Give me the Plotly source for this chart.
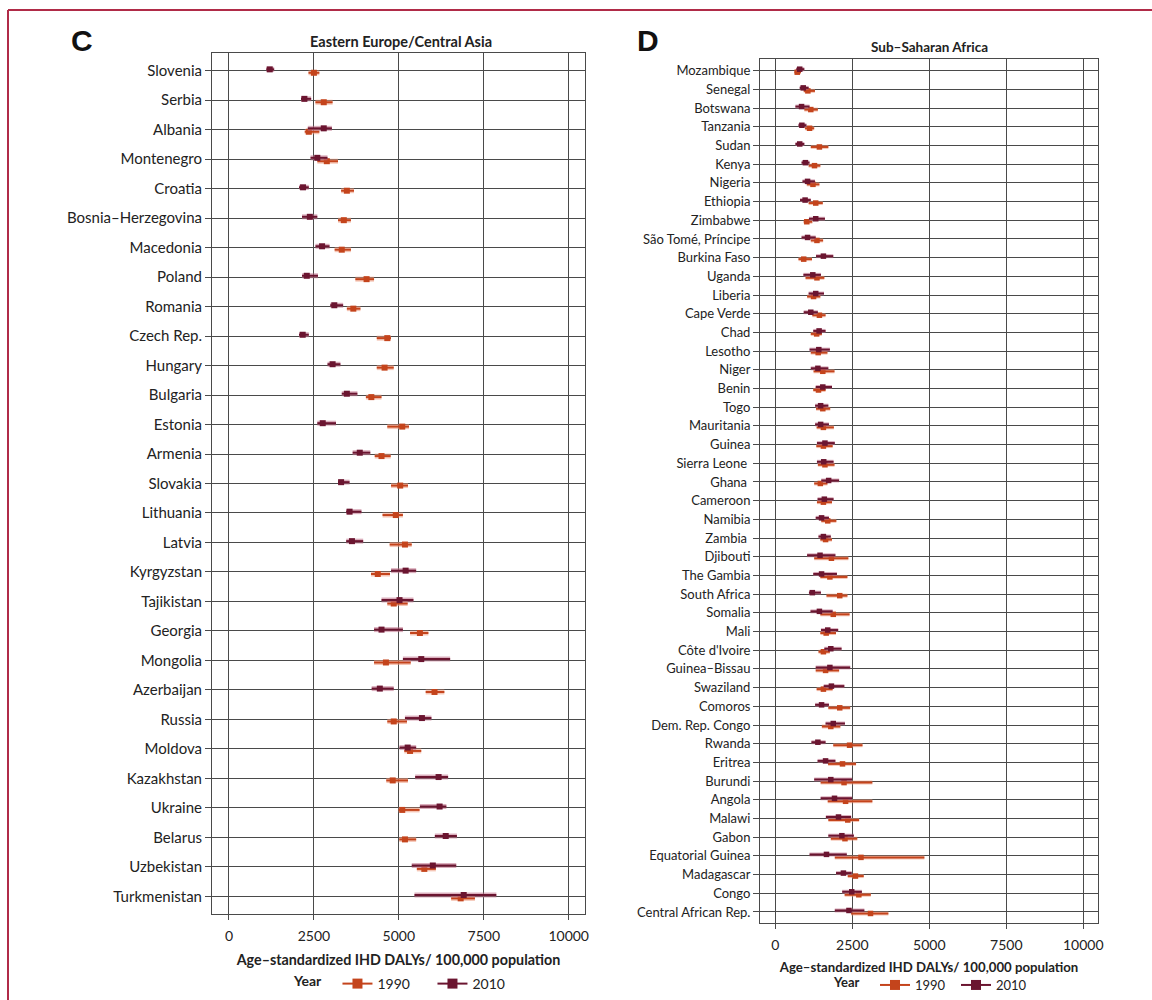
import plotly.graph_objects as go

# ---------------- Panel C: Eastern Europe / Central Asia ----------------
ee_countries = ["Slovenia", "Serbia", "Albania", "Montenegro", "Croatia", "Bosnia–Herzegovina",
                "Macedonia", "Poland", "Romania", "Czech Rep.", "Hungary", "Bulgaria", "Estonia",
                "Armenia", "Slovakia", "Lithuania", "Latvia", "Kyrgyzstan", "Tajikistan", "Georgia",
                "Mongolia", "Azerbaijan", "Russia", "Moldova", "Kazakhstan", "Ukraine", "Belarus",
                "Uzbekistan", "Turkmenistan"]
ee_1990 = [2500, 2790, 2350, 2880, 3470, 3380, 3320, 4050, 3660, 4660, 4580, 4190, 5100,
           4490, 5040, 4910, 5180, 4380, 4850, 5620, 4620, 6050, 4850, 5330, 4820, 5100,
           5180, 5750, 6820]
ee_1990_lo = [2340, 2545, 2230, 2600, 3300, 3210, 3110, 3720, 3470, 4350, 4350, 4030, 4660,
              4290, 4770, 4520, 4730, 4180, 4660, 5330, 4270, 5790, 4660, 5160, 4630, 4990,
              5010, 5530, 6540]
ee_1990_hi = [2660, 3050, 2660, 3210, 3680, 3590, 3590, 4270, 3870, 4770, 4850, 4490, 5300,
              4760, 5270, 5120, 5380, 4740, 5260, 5870, 5350, 6340, 5240, 5660, 5270, 5610,
              5510, 6090, 7240]
ee_2010 = [1200, 2220, 2790, 2600, 2180, 2380, 2740, 2290, 3100, 2170, 3050, 3470, 2760,
           3850, 3300, 3550, 3620, 5200, 5020, 4490, 5660, 4440, 5680, 5260, 6170, 6200,
           6380, 6000, 6910]
ee_2010_lo = [1100, 2120, 2320, 2400, 2060, 2150, 2545, 2150, 2980, 2060, 2900, 3320, 2600,
              3640, 3210, 3450, 3450, 4770, 4490, 4270, 5120, 4200, 5180, 5020, 5480, 5620,
              6060, 5380, 5460]
ee_2010_hi = [1330, 2420, 3030, 2900, 2350, 2600, 2960, 2620, 3360, 2350, 3280, 3780, 3150,
              4160, 3550, 3900, 3950, 5510, 5430, 5120, 6510, 4850, 5960, 5510, 6450, 6400,
              6710, 6690, 7870]

# ---------------- Panel D: Sub-Saharan Africa ----------------
ssa_countries = ["Mozambique", "Senegal", "Botswana", "Tanzania", "Sudan", "Kenya", "Nigeria",
                 "Ethiopia", "Zimbabwe", "São Tomé, Príncipe", "Burkina Faso", "Uganda", "Liberia",
                 "Cape Verde", "Chad", "Lesotho", "Niger", "Benin", "Togo", "Mauritania", "Guinea",
                 "Sierra Leone ", "Ghana ", "Cameroon", "Namibia", "Zambia ", "Djibouti",
                 "The Gambia", "South Africa", "Somalia", "Mali", "Côte d'Ivoire", "Guinea–Bissau",
                 "Swaziland", "Comoros", "Dem. Rep. Congo", "Rwanda", "Eritrea", "Burundi",
                 "Angola", "Malawi", "Gabon", "Equatorial Guinea", "Madagascar", "Congo",
                 "Central African Rep."]
ssa_1990 = [710, 1055, 1150, 1110, 1430, 1270, 1220, 1310, 1020, 1350, 920, 1350, 1240, 1430,
            1340, 1390, 1540, 1400, 1540, 1560, 1560, 1610, 1460, 1560, 1700, 1630, 1820,
            1770, 2090, 1880, 1650, 1560, 1630, 1560, 2090, 1800, 2410, 2180, 2230, 2280,
            2350, 2260, 2780, 2600, 2710, 3090]
ssa_1990_lo = [620, 920, 940, 960, 1150, 1080, 1020, 1080, 920, 1150, 750, 980, 1030, 1200,
               1150, 1150, 1240, 1230, 1320, 1340, 1330, 1380, 1260, 1350, 1490, 1460, 1260,
               1460, 1660, 1460, 1460, 1400, 1310, 1340, 1720, 1510, 1880, 1710, 1470, 1700,
               1720, 1800, 1930, 2350, 2250, 2460]
ssa_1990_hi = [830, 1285, 1380, 1260, 1720, 1460, 1430, 1540, 1200, 1550, 1190, 1590, 1460, 1630,
               1510, 1690, 1920, 1630, 1780, 1900, 1860, 1920, 1690, 1840, 1980, 1840, 2370,
               2340, 2340, 2410, 1970, 1770, 2070, 1860, 2430, 2110, 2830, 2620, 3150, 3150,
               2720, 2660, 4840, 2870, 3100, 3670]
ssa_2010 = [790, 905, 850, 860, 790, 975, 1045, 965, 1310, 1045, 1560, 1215, 1310, 1150,
            1420, 1410, 1380, 1540, 1470, 1470, 1610, 1570, 1730, 1590, 1500, 1560, 1450,
            1500, 1200, 1430, 1700, 1800, 1770, 1820, 1500, 1880, 1380, 1630, 1800, 1920,
            2050, 2160, 1660, 2210, 2480, 2390]
ssa_2010_lo = [680, 790, 650, 750, 650, 850, 880, 800, 1090, 850, 1320, 910, 1080, 920,
               1230, 1110, 1150, 1310, 1290, 1290, 1350, 1350, 1490, 1370, 1310, 1400, 1030,
               1230, 1090, 1140, 1480, 1590, 1310, 1570, 1290, 1630, 1170, 1370, 1260, 1470,
               1640, 1720, 1110, 1970, 2170, 1930]
ssa_2010_hi = [940, 1080, 1110, 1010, 940, 1110, 1285, 1150, 1610, 1310, 1880, 1480, 1580, 1380,
               1630, 1770, 1720, 1840, 1720, 1740, 1930, 1890, 2070, 1890, 1740, 1800, 1950,
               2000, 1480, 1860, 2040, 2150, 2430, 2240, 1740, 2260, 1630, 1950, 2490, 2490,
               2460, 2550, 2320, 2480, 2810, 2890]

x_ticks = [0, 2500, 5000, 7500, 10000]

COL_1990 = "#C4441C"
COL_2010 = "#6B1530"
HALO_1990 = "rgba(236,150,120,0.55)"
HALO_2010 = "rgba(190,110,135,0.55)"
GRID = "#4a4a4a"
FONT = "Lato"
TXT = "#222222"

W, H = 1152, 1000
# plot area pixel boxes: (left, right, top, bottom)
boxC = (212, 585, 53, 914)
boxD = (760, 1098, 59, 923)


def dom(box):
    l, r, t, b = box
    return [l / W, r / W], [1 - b / H, 1 - t / H]


fig = go.Figure()


def add_panel(countries, v90, lo90, hi90, v10, lo10, hi10, xa, ya, off10, off90, msize,
              halo_w, legend):
    idx = list(range(len(countries)))
    y10 = [i + off10 for i in idx]
    y90 = [i + off90 for i in idx]
    for yy, v, lo, hi, col, halo, name in [
        (y90, v90, lo90, hi90, COL_1990, HALO_1990, "1990"),
        (y10, v10, lo10, hi10, COL_2010, HALO_2010, "2010"),
    ]:
        plus = [h - c for h, c in zip(hi, v)]
        minus = [c - l for c, l in zip(v, lo)]
        # halo
        fig.add_trace(go.Scatter(
            x=v, y=yy, mode="markers", xaxis=xa, yaxis=ya, showlegend=False, hoverinfo="skip",
            marker=dict(size=1, color="rgba(0,0,0,0)"),
            error_x=dict(type="data", array=plus, arrayminus=minus, color=halo,
                         thickness=halo_w, width=0)))
        fig.add_trace(go.Scatter(
            x=v, y=yy, mode="markers", xaxis=xa, yaxis=ya, showlegend=False, name=name,
            marker=dict(size=msize, symbol="square", color=col),
            error_x=dict(type="data", array=plus, arrayminus=minus, color=col,
                         thickness=2, width=0)))
    # legend entries
    for name, col in [("1990", COL_1990), ("2010", COL_2010)]:
        fig.add_trace(go.Scatter(
            x=[None], y=[None], mode="lines+markers", name=name, legend=legend,
            xaxis=xa, yaxis=ya,
            line=dict(color=col, width=2),
            marker=dict(size=10, symbol="square", color=col)))


add_panel(ee_countries, ee_1990, ee_1990_lo, ee_1990_hi, ee_2010, ee_2010_lo, ee_2010_hi,
          "x", "y", -0.045, 0.07, 6, 5, "legend")
add_panel(ssa_countries, ssa_1990, ssa_1990_lo, ssa_1990_hi, ssa_2010, ssa_2010_lo, ssa_2010_hi,
          "x2", "y2", -0.08, 0.08, 5.5, 4, "legend2")

xdC, ydC = dom(boxC)
xdD, ydD = dom(boxD)

xcommon = dict(range=[-500, 10480], tickvals=x_ticks, tickformat="d", showgrid=True,
               gridcolor=GRID, gridwidth=1, showline=True, linecolor=GRID, linewidth=1,
               mirror=True, ticks="outside", ticklen=5, tickcolor=GRID, zeroline=False,
               tickfont=dict(family=FONT, size=14, color=TXT), automargin=False,
               ticklabelstandoff=4)
ycommon = dict(showgrid=True, gridcolor=GRID, gridwidth=1, showline=True, linecolor=GRID,
               linewidth=1, mirror=True, ticks="outside", ticklen=6, tickcolor=GRID,
               zeroline=False, automargin=False)

fig.update_layout(
    width=W, height=H,
    margin=dict(l=0, r=0, t=0, b=0),
    paper_bgcolor="white", plot_bgcolor="white",
    font=dict(family=FONT, color=TXT),
    xaxis=dict(domain=xdC, anchor="y",
               title=dict(text="<b>Age–standardized IHD DALYs/ 100,000 population</b>",
                          font=dict(family=FONT, size=14.3, color=TXT), standoff=12),
               **xcommon),
    yaxis=dict(domain=ydC, anchor="x", range=[28.6, -0.6],
               tickvals=list(range(len(ee_countries))), ticktext=ee_countries,
               tickfont=dict(family=FONT, size=15, color=TXT), **ycommon),
    xaxis2=dict(domain=xdD, anchor="y2",
                title=dict(text="<b>Age–standardized IHD DALYs/ 100,000 population</b>",
                           font=dict(family=FONT, size=13.2, color=TXT), standoff=10),
                **xcommon),
    yaxis2=dict(domain=ydD, anchor="x2", range=[45.59, -0.625],
                tickvals=list(range(len(ssa_countries))), ticktext=ssa_countries,
                tickfont=dict(family=FONT, size=13, color=TXT), **ycommon),
    legend=dict(orientation="h", x=292 / W, xanchor="left", y=0.0, yanchor="bottom",
                entrywidth=50, entrywidthmode="pixels",
                title=dict(text="<b>Year</b>  ", side="left", font=dict(family=FONT, size=14)),
                font=dict(family=FONT, size=14, color=TXT), bgcolor="rgba(0,0,0,0)"),
    legend2=dict(orientation="h", x=832 / W, xanchor="left", y=0.0, yanchor="bottom",
                 entrywidth=36, entrywidthmode="pixels",
                 title=dict(text="<b>Year</b>  ", side="left", font=dict(family=FONT, size=13)),
                 font=dict(family=FONT, size=13, color=TXT), bgcolor="rgba(0,0,0,0)"),
    annotations=[
        dict(text="<b>C</b>", x=82 / W, y=1 - 40 / H, xref="paper", yref="paper",
             xanchor="center", yanchor="middle", showarrow=False,
             font=dict(family="Liberation Sans", size=30, color="#111111")),
        dict(text="<b>Eastern Europe/Central Asia</b>", x=401 / W, y=1 - 41 / H, xref="paper",
             yref="paper", xanchor="center", yanchor="middle", showarrow=False,
             font=dict(family=FONT, size=14.5, color=TXT)),
        dict(text="<b>D</b>", x=648 / W, y=1 - 40 / H, xref="paper", yref="paper",
             xanchor="center", yanchor="middle", showarrow=False,
             font=dict(family="Liberation Sans", size=30, color="#111111")),
        dict(text="<b>Sub–Saharan Africa</b>", x=929 / W, y=1 - 47 / H, xref="paper",
             yref="paper", xanchor="center", yanchor="middle", showarrow=False,
             font=dict(family=FONT, size=13.5, color=TXT)),
    ],
    shapes=[
        dict(type="line", xref="paper", yref="paper", x0=8 / W, x1=1.0, y0=1 - 10 / H,
             y1=1 - 10 / H, line=dict(color="#B02B48", width=2)),
        dict(type="line", xref="paper", yref="paper", x0=8 / W, x1=8 / W, y0=1 - 10 / H,
             y1=0, line=dict(color="#B02B48", width=2)),
    ],
)

fig.write_html("out.html", config={"displayModeBar": False},
               post_script="document.body.style.margin='0px';")
